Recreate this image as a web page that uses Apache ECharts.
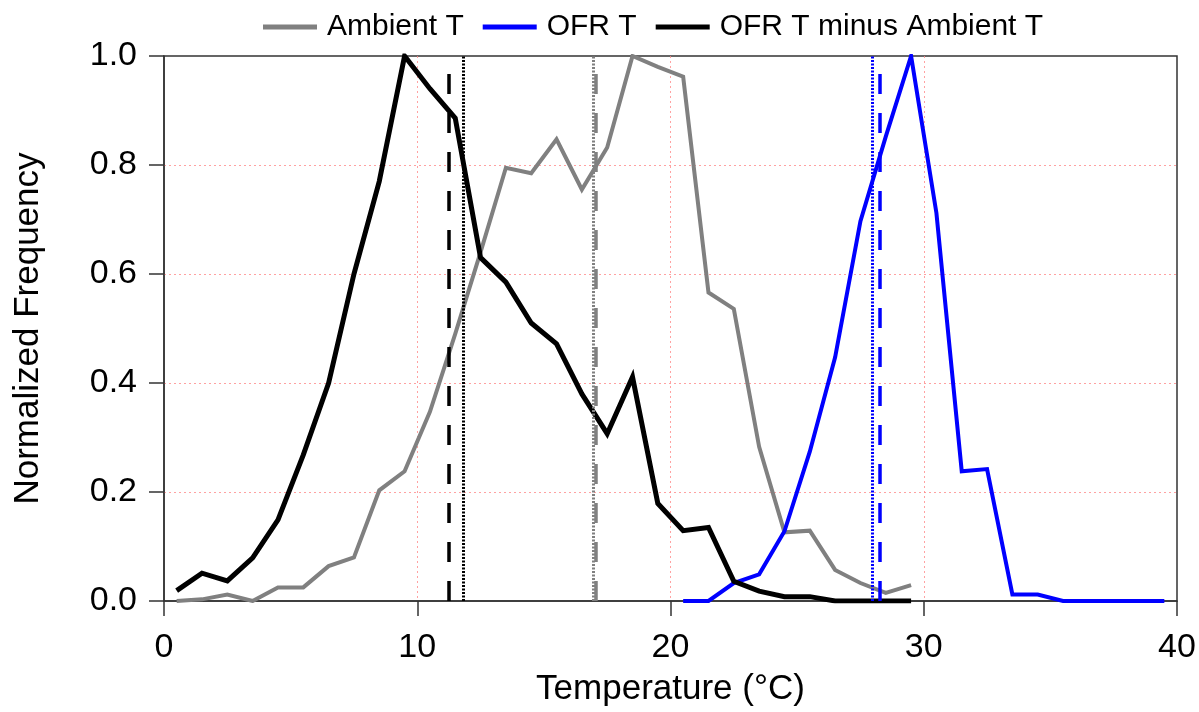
<!DOCTYPE html>
<html>
<head>
<meta charset="utf-8">
<script src="https://cdn.jsdelivr.net/npm/echarts@6/dist/echarts.min.js"></script>
<style>
  html, body { margin: 0; padding: 0; background: #ffffff; }
  #chart { width: 1199px; height: 712px; }
</style>
</head>
<body>
<div id="chart"></div>
<script>
// Histogram bin centres (°C) and normalized frequencies
const ambientBins = [0.5, 1.5, 2.5, 3.5, 4.5, 5.5, 6.5, 7.5, 8.5, 9.5,
  10.5, 11.5, 12.5, 13.5, 14.5, 15.5, 16.5, 17.5, 18.5, 19.5,
  20.5, 21.5, 22.5, 23.5, 24.5, 25.5, 26.5, 27.5, 28.5, 29.5];
const ambientFreq = [0.0, 0.003, 0.012, 0.0, 0.025, 0.025, 0.064, 0.08, 0.203, 0.238,
  0.347, 0.49, 0.64, 0.795, 0.785, 0.847, 0.755, 0.832, 1.0, 0.98,
  0.962, 0.566, 0.536, 0.283, 0.126, 0.129, 0.057, 0.033, 0.015, 0.029];

const ofrBins = [20.5, 21.5, 22.5, 23.5, 24.5, 25.5, 26.5, 27.5, 28.5, 29.5,
  30.5, 31.5, 32.5, 33.5, 34.5, 35.5, 36.5, 37.5, 38.5, 39.5];
const ofrFreq = [0.0, 0.0, 0.033, 0.049, 0.128, 0.274, 0.447, 0.697, 0.852, 1.0,
  0.712, 0.238, 0.242, 0.012, 0.012, 0.0, 0.0, 0.0, 0.0, 0.0];

const diffBins = [0.5, 1.5, 2.5, 3.5, 4.5, 5.5, 6.5, 7.5, 8.5, 9.5,
  10.5, 11.5, 12.5, 13.5, 14.5, 15.5, 16.5, 17.5, 18.5, 19.5,
  20.5, 21.5, 22.5, 23.5, 24.5, 25.5, 26.5, 27.5, 28.5, 29.5];
const diffFreq = [0.019, 0.051, 0.037, 0.079, 0.149, 0.268, 0.40, 0.60, 0.77, 1.0,
  0.94, 0.886, 0.63, 0.585, 0.51, 0.472, 0.38, 0.307, 0.411, 0.179,
  0.129, 0.135, 0.036, 0.018, 0.008, 0.008, 0.0, 0.0, 0.0, 0.0];

// Reference temperatures: [dashed, dotted] per distribution
const ambientRef = [17.06, 16.94];
const ofrRef = [28.28, 27.97];
const diffRef = [11.24, 11.8];

const xTicks = { min: 0, max: 40, step: 10 };
const yTicks = { min: 0, max: 1, step: 0.2 };

const seriesNames = ['Ambient T', 'OFR T', 'OFR T minus Ambient T'];
const seriesColors = ['#808080', '#0000ff', '#000000'];

const FONT = "'Liberation Sans', Arial, Helvetica, sans-serif";
const GRID_PINK = '#ff8a8a';

function pairs(xs, ys) { return xs.map((x, i) => [x, ys[i]]); }

function refLines(vals, color) {
  return {
    silent: true,
    symbol: ['none', 'none'],
    label: { show: false },
    emphasis: { disabled: true },
    animation: false,
    data: [
      { xAxis: vals[0], lineStyle: { color: color, width: 3.5, type: [20, 19], opacity: 1 } },
      { xAxis: vals[1], lineStyle: { color: color, width: 3, type: [2, 1.5], opacity: 1 } }
    ]
  };
}

function lineSeries(name, data, color, width, refs) {
  return {
    name: name,
    type: 'line',
    data: data,
    showSymbol: false,
    symbol: 'none',
    lineStyle: { color: color, width: width, join: 'miter' },
    itemStyle: { color: color },
    markLine: refLines(refs, color),
    animation: false,
    z: 3
  };
}

function splitStyle() {
  return {
    show: true,
    showMinLine: false,
    showMaxLine: false,
    lineStyle: { color: GRID_PINK, width: 1, type: [2, 3], opacity: 0.8 }
  };
}

const chart = echarts.init(document.getElementById('chart'), null, { renderer: 'canvas' });

chart.setOption({
  backgroundColor: '#ffffff',
  animation: false,
  textStyle: { fontFamily: FONT },
  legend: {
    left: 258,
    top: 7,
    icon: 'rect',
    itemWidth: 54,
    itemHeight: 5,
    itemGap: 19,
    selectedMode: false,
    textStyle: { fontFamily: FONT, fontSize: 30, color: '#000', padding: [0, 0, 0, 5] },
    data: seriesNames.map((n, i) => ({ name: n, itemStyle: { color: seriesColors[i] } }))
  },
  grid: {
    left: 164,
    right: 22,
    top: 56,
    bottom: 109,
    show: true,
    borderColor: '#333',
    borderWidth: 1.5,
    backgroundColor: 'transparent'
  },
  xAxis: {
    type: 'value',
    min: xTicks.min,
    max: xTicks.max,
    interval: xTicks.step,
    name: 'Temperature (°C)',
    nameLocation: 'middle',
    nameGap: 71,
    nameTextStyle: { fontFamily: FONT, fontSize: 35, color: '#000' },
    axisLine: { show: true, onZero: false, lineStyle: { color: '#333', width: 1.5 } },
    axisTick: { show: true, inside: false, length: 15, lineStyle: { color: '#333', width: 1.5 } },
    axisLabel: { fontFamily: FONT, fontSize: 34, color: '#000', margin: 30 },
    splitLine: splitStyle()
  },
  yAxis: {
    type: 'value',
    min: yTicks.min,
    max: yTicks.max,
    interval: yTicks.step,
    name: 'Normalized Frequency',
    nameLocation: 'middle',
    nameGap: 118,
    nameTextStyle: { fontFamily: FONT, fontSize: 35, color: '#000' },
    axisLine: { show: true, onZero: false, lineStyle: { color: '#333', width: 1.5 } },
    axisTick: { show: true, inside: false, length: 15, lineStyle: { color: '#333', width: 1.5 } },
    axisLabel: { fontFamily: FONT, fontSize: 34, color: '#000', margin: 27,
      formatter: v => v.toFixed(1) },
    splitLine: splitStyle()
  },
  series: [
    lineSeries(seriesNames[0], pairs(ambientBins, ambientFreq), seriesColors[0], 4, ambientRef),
    lineSeries(seriesNames[1], pairs(ofrBins, ofrFreq), seriesColors[1], 4, ofrRef),
    lineSeries(seriesNames[2], pairs(diffBins, diffFreq), seriesColors[2], 5, diffRef)
  ]
});
</script>
</body>
</html>
